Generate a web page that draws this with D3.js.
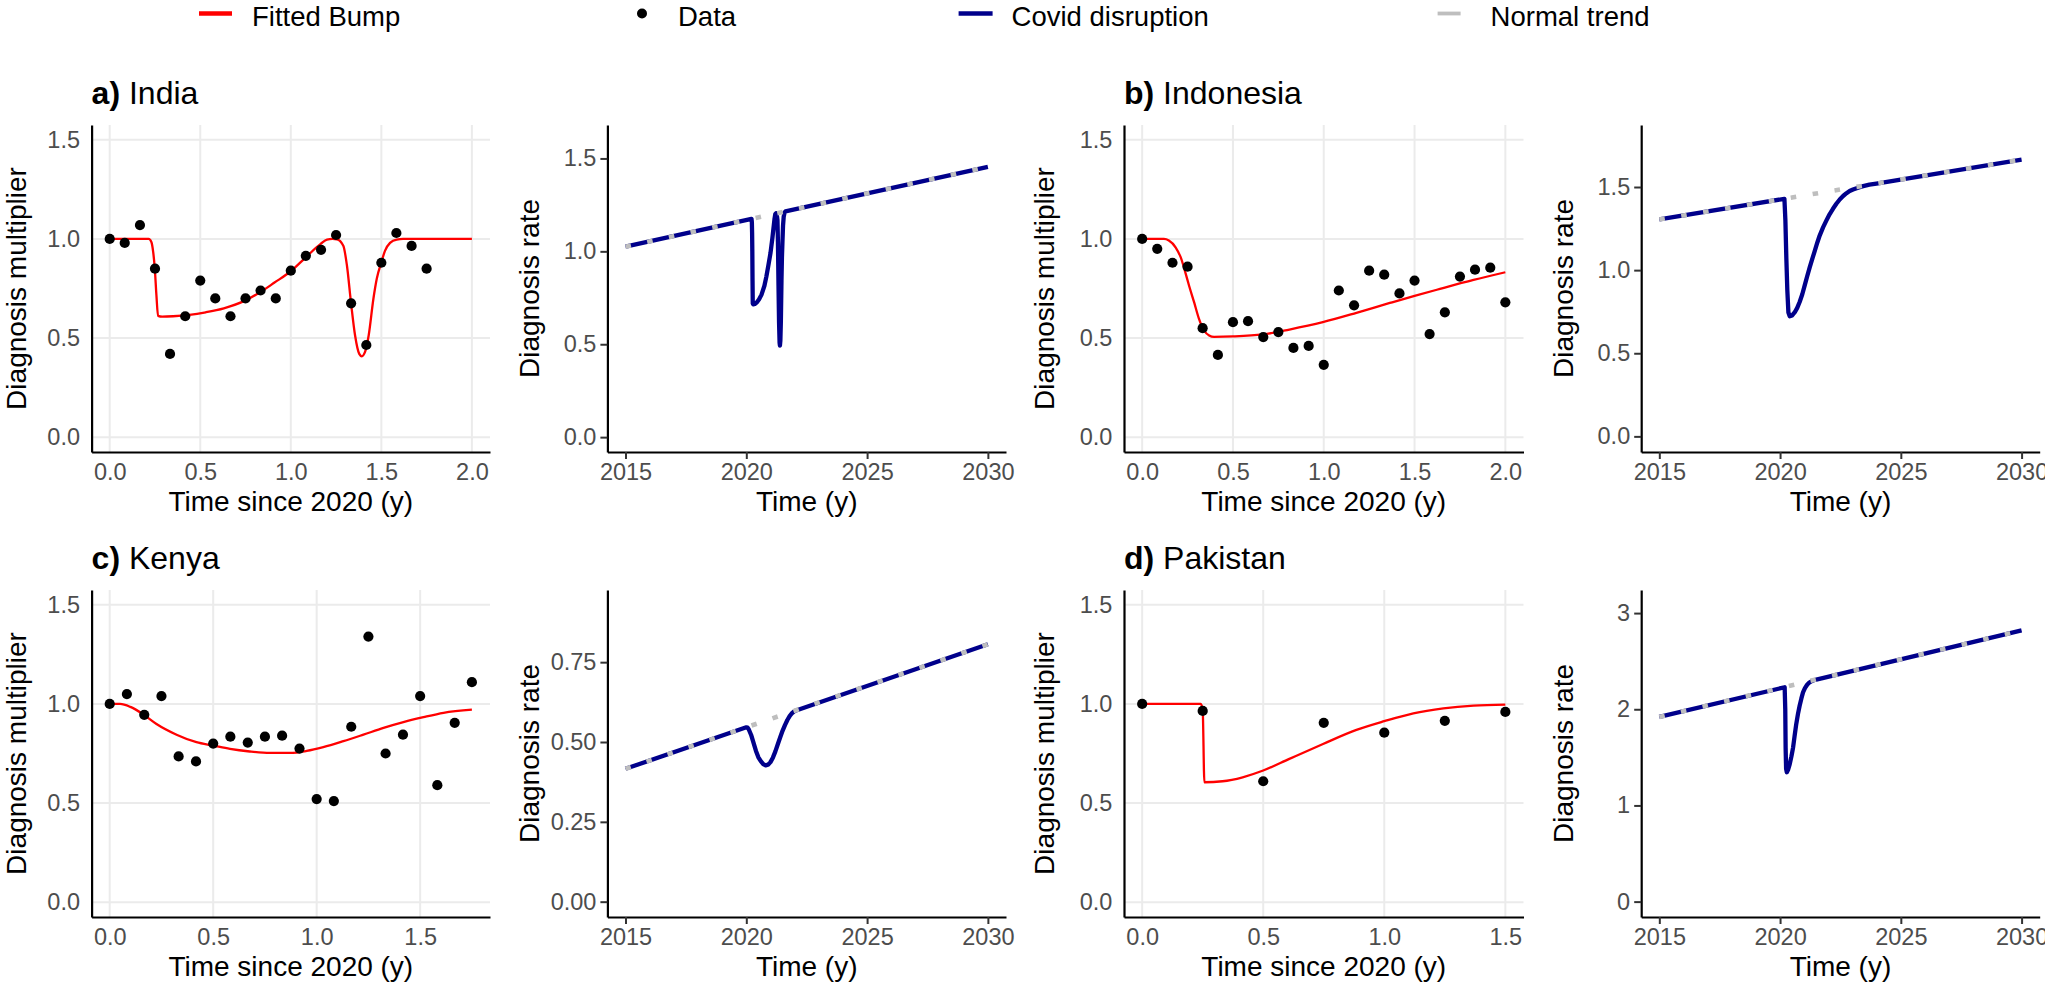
<!DOCTYPE html>
<html>
<head>
<meta charset="utf-8">
<script src="https://cdnjs.cloudflare.com/ajax/libs/d3/7.8.5/d3.min.js"></script>
<style>
  body { margin: 0; background: #fff; }
  svg text { font-family: "Liberation Sans", Arial, Helvetica, sans-serif; }
  .tick text { fill: #4d4d4d; font-size: 23.5px; }
  .tick line { stroke: #333333; stroke-width: 2; }
  .domain { stroke: #000; stroke-width: 2.2; }
</style>
</head>
<body>
<div id="chart"></div>
<script>
// ---- data ----
var countries = ["India", "Indonesia", "Kenya", "Pakistan"];
var panelLetters = ["a)", "b)", "c)", "d)"];

// observed diagnosis multiplier (time since 2020, years)
var indiaTime = [0, 0.083, 0.167, 0.25, 0.333, 0.417, 0.5, 0.583, 0.667, 0.75, 0.833, 0.917, 1, 1.083, 1.167, 1.25, 1.333, 1.417, 1.5, 1.583, 1.667, 1.75];
var indiaData = [1.00, 0.98, 1.07, 0.85, 0.42, 0.61, 0.79, 0.70, 0.61, 0.70, 0.74, 0.70, 0.84, 0.915, 0.945, 1.02, 0.675, 0.465, 0.88, 1.03, 0.965, 0.85];

var indonesiaTime = [0, 0.083, 0.167, 0.25, 0.333, 0.417, 0.5, 0.583, 0.667, 0.75, 0.833, 0.917, 1, 1.083, 1.167, 1.25, 1.333, 1.417, 1.5, 1.583, 1.667, 1.75, 1.833, 1.917, 2];
var indonesiaData = [1.00, 0.95, 0.88, 0.86, 0.55, 0.415, 0.58, 0.585, 0.505, 0.53, 0.45, 0.46, 0.365, 0.74, 0.665, 0.84, 0.82, 0.725, 0.79, 0.52, 0.63, 0.81, 0.845, 0.855, 0.68];

var kenyaTime = [0, 0.083, 0.167, 0.25, 0.333, 0.417, 0.5, 0.583, 0.667, 0.75, 0.833, 0.917, 1, 1.083, 1.167, 1.25, 1.333, 1.417, 1.5, 1.583, 1.667, 1.75];
var kenyaData = [1.00, 1.05, 0.945, 1.04, 0.735, 0.71, 0.80, 0.835, 0.805, 0.835, 0.84, 0.775, 0.52, 0.51, 0.885, 1.34, 0.75, 0.845, 1.04, 0.59, 0.905, 1.11];

var pakistanTime = [0, 0.25, 0.5, 0.75, 1, 1.25, 1.5];
var pakistanData = [1.00, 0.965, 0.61, 0.905, 0.855, 0.915, 0.96];

// fitted bump curves [time, multiplier]
var indiaBump = [[0, 1], [0.215, 1], [0.23, 0.985], [0.24, 0.935], [0.249, 0.85], [0.258, 0.715], [0.267, 0.612],
  [0.29, 0.608], [0.35, 0.61], [0.44, 0.617], [0.53, 0.63], [0.63, 0.65], [0.75, 0.69], [0.83, 0.731], [0.91, 0.78],
  [1, 0.837], [1.08, 0.905], [1.165, 0.975], [1.2, 0.997], [1.23, 1], [1.255, 0.998], [1.29, 0.966], [1.31, 0.866],
  [1.333, 0.674], [1.355, 0.513], [1.378, 0.42], [1.392, 0.408], [1.41, 0.43], [1.43, 0.513], [1.456, 0.697],
  [1.475, 0.8], [1.5, 0.882], [1.52, 0.94], [1.548, 0.98], [1.585, 0.997], [1.62, 1], [2, 1]];
var indonesiaBump = [[0, 1], [0.12, 1], [0.147, 0.992], [0.184, 0.958], [0.212, 0.908], [0.24, 0.824], [0.258, 0.765],
  [0.286, 0.681], [0.313, 0.597], [0.341, 0.538], [0.369, 0.513], [0.396, 0.506], [0.5, 0.508], [0.664, 0.518],
  [0.811, 0.543], [0.995, 0.58], [1.18, 0.627], [1.364, 0.677], [1.5, 0.713], [1.64, 0.748], [1.825, 0.793], [2, 0.832]];
var kenyaBump = [[0, 1], [0.05, 1], [0.1, 0.985], [0.165, 0.945], [0.226, 0.899], [0.323, 0.845], [0.419, 0.807],
  [0.5, 0.79], [0.581, 0.773], [0.677, 0.76], [0.774, 0.753], [0.871, 0.753], [0.952, 0.763], [1.032, 0.782],
  [1.129, 0.812], [1.226, 0.845], [1.323, 0.879], [1.419, 0.908], [1.516, 0.933], [1.613, 0.955], [1.75, 0.971]];
var pakistanBump = [[0, 1], [0.242, 1], [0.25, 0.97], [0.257, 0.605], [0.332, 0.61], [0.415, 0.63], [0.5, 0.664],
  [0.608, 0.723], [0.747, 0.798], [0.885, 0.869], [1, 0.913], [1.12, 0.953], [1.244, 0.978], [1.369, 0.992], [1.5, 0.997]];

// normal trend [year, rate]
var indiaTrend = [[2015, 1.025], [2030, 1.455]];
var indonesiaTrend = [[2015, 1.305], [2030, 1.665]];
var kenyaTrend = [[2015, 0.416], [2030, 0.806]];
var pakistanTrend = [[2015, 1.92], [2030, 2.82]];

// covid disruption [year, rate]
var indiaCovid = [[2015, 1.025], [2020.215, 1.175], [2020.23, 1.157], [2020.24, 1.1], [2020.249, 1.0], [2020.258, 0.84],
  [2020.267, 0.72], [2020.29, 0.715], [2020.35, 0.717], [2020.44, 0.726], [2020.53, 0.742], [2020.63, 0.767],
  [2020.75, 0.815], [2020.83, 0.864], [2020.91, 0.922], [2021, 0.99], [2021.08, 1.072], [2021.165, 1.172],
  [2021.2, 1.2], [2021.23, 1.205], [2021.255, 1.205], [2021.29, 1.167], [2021.31, 1.047], [2021.333, 0.815],
  [2021.355, 0.62], [2021.378, 0.508], [2021.392, 0.493], [2021.41, 0.52], [2021.43, 0.62], [2021.456, 0.843],
  [2021.475, 0.967], [2021.5, 1.066], [2021.52, 1.137], [2021.548, 1.186], [2021.585, 1.21], [2021.62, 1.215], [2030, 1.455]];
var indonesiaCovid = [[2015, 1.305], [2020.18, 1.429], [2020.22, 1.3], [2020.26, 1.07], [2020.3, 0.88], [2020.345, 0.745],
  [2020.4, 0.723], [2020.5, 0.728], [2020.61, 0.747], [2020.71, 0.773], [2020.81, 0.808], [2020.92, 0.855],
  [2021.02, 0.908], [2021.12, 0.962], [2021.23, 1.018], [2021.34, 1.07], [2021.44, 1.118], [2021.54, 1.165],
  [2021.64, 1.208], [2021.78, 1.257], [2021.92, 1.299], [2022.05, 1.336], [2022.19, 1.369], [2022.33, 1.399],
  [2022.47, 1.425], [2022.61, 1.446], [2022.75, 1.463], [2022.88, 1.476], [2023.02, 1.485], [2023.23, 1.496],
  [2023.44, 1.505], [2023.7, 1.514], [2023.99, 1.521], [2030, 1.665]];
var kenyaCovid = [[2015, 0.416], [2020, 0.546], [2020.05, 0.545], [2020.1, 0.54], [2020.2, 0.522], [2020.3, 0.497], [2020.4, 0.472],
  [2020.5, 0.452], [2020.6, 0.44], [2020.7, 0.431], [2020.8, 0.427], [2020.9, 0.429], [2021, 0.437], [2021.1, 0.451],
  [2021.2, 0.47], [2021.3, 0.492], [2021.4, 0.514], [2021.5, 0.535], [2021.6, 0.553], [2021.7, 0.569], [2021.8, 0.582],
  [2021.9, 0.591], [2022, 0.597], [2030, 0.806]];
var pakistanCovid = [[2015, 1.92], [2020.19, 2.229], [2020.215, 2.0], [2020.23, 1.6], [2020.25, 1.38], [2020.28, 1.345],
  [2020.33, 1.37], [2020.4, 1.43], [2020.47, 1.51], [2020.54, 1.604], [2020.6, 1.72], [2020.67, 1.846], [2020.74, 1.95],
  [2020.81, 2.037], [2020.88, 2.11], [2020.95, 2.175], [2021.03, 2.22], [2021.12, 2.255], [2021.2, 2.275],
  [2021.3, 2.292], [2021.4, 2.302], [2021.5, 2.309], [2030, 2.82]];

// axis domains and ticks
var leftXDomains = [[-0.1, 2.1], [-0.1, 2.1], [-0.0875, 1.8375], [-0.075, 1.575]];
var leftYDomain = [-0.075, 1.575];
var leftXTicks = [[0, 0.5, 1, 1.5, 2], [0, 0.5, 1, 1.5, 2], [0, 0.5, 1, 1.5], [0, 0.5, 1, 1.5]];
var leftYTicks = [0, 0.5, 1, 1.5];
var rightXDomain = [2014.25, 2030.75];
var rightXTicks = [2015, 2020, 2025, 2030];
var rightYDomains = [[-0.08, 1.68], [-0.094, 1.873], [-0.048, 0.976], [-0.16, 3.24]];
var rightYTicks = [[0, 0.5, 1, 1.5], [0, 0.5, 1, 1.5], [0, 0.25, 0.5, 0.75], [0, 1, 2, 3]];
var rightYFormats = [".1f", ".1f", ".2f", "d"];

var legendLabels = ["Fitted Bump", "Data", "Covid disruption", "Normal trend"];

var observed = [
  d3.zip(indiaTime, indiaData),
  d3.zip(indonesiaTime, indonesiaData),
  d3.zip(kenyaTime, kenyaData),
  d3.zip(pakistanTime, pakistanData)
];
var bumps = [indiaBump, indonesiaBump, kenyaBump, pakistanBump];
var trends = [indiaTrend, indonesiaTrend, kenyaTrend, pakistanTrend];
var covids = [indiaCovid, indonesiaCovid, kenyaCovid, pakistanCovid];

// ---- layout ----
var svgWidth = 2045;
var svgHeight = 984;

var rowTop = [125, 590];
var rowBottom = [452, 917];
var leftCols = [[91.6, 490], [1124, 1523.5]];
var rightCols = [[607.4, 1006], [1641.2, 2039.7]];

var svg = d3.select("#chart")
  .append("svg")
  .attr("width", svgWidth)
  .attr("height", svgHeight);

var red = "#FF0000", navy = "#00008B", grey = "#BEBEBE";
var trendDash = "5.55,16.65";

// ---- legend ----
var legendKeyX = [199, 625, 958.6, 1437.6];
var legendY = 13.5;
var legend = svg.append("g");
legendLabels.forEach(function(label, i) {
  var kx = legendKeyX[i];
  if (i === 0) {
    legend.append("line").attr("x1", kx).attr("x2", kx + 33).attr("y1", legendY).attr("y2", legendY)
      .attr("stroke", red).attr("stroke-width", 4.5);
  } else if (i === 1) {
    legend.append("circle").attr("cx", kx + 17).attr("cy", legendY).attr("r", 5).attr("fill", "#000");
  } else if (i === 2) {
    legend.append("line").attr("x1", kx).attr("x2", kx + 34).attr("y1", legendY).attr("y2", legendY)
      .attr("stroke", navy).attr("stroke-width", 4.3);
  } else {
    legend.append("line").attr("x1", kx).attr("x2", kx + 23).attr("y1", legendY).attr("y2", legendY)
      .attr("stroke", grey).attr("stroke-width", 3.8);
  }
  legend.append("text")
    .attr("x", kx + 53)
    .attr("y", 25.5)
    .attr("font-size", "27.5px")
    .attr("fill", "#000")
    .text(label);
});

// ---- panels ----
countries.forEach(function(country, i) {
  var row = Math.floor(i / 2), col = i % 2;
  var top = rowTop[row], bottom = rowBottom[row];
  var lc = leftCols[col], rc = rightCols[col];

  // title
  var title = svg.append("text")
    .attr("x", lc[0])
    .attr("y", top - 21)
    .attr("font-size", "32px")
    .attr("fill", "#000");
  title.append("tspan").attr("font-weight", "bold").text(panelLetters[i]);
  title.append("tspan").text(" " + country);

  // ---------- left: fitted bump ----------
  var x = d3.scaleLinear().domain(leftXDomains[i]).range(lc);
  var y = d3.scaleLinear().domain(leftYDomain).range([bottom, top]);

  var gl = svg.append("g");

  // gridlines
  gl.selectAll(".vgrid").data(leftXTicks[i]).enter().append("line")
    .attr("x1", d => x(d)).attr("x2", d => x(d))
    .attr("y1", top).attr("y2", bottom)
    .attr("stroke", "#EBEBEB").attr("stroke-width", 2);
  gl.selectAll(".hgrid").data(leftYTicks).enter().append("line")
    .attr("x1", lc[0]).attr("x2", lc[1])
    .attr("y1", d => y(d)).attr("y2", d => y(d))
    .attr("stroke", "#EBEBEB").attr("stroke-width", 2);

  var bumpLine = d3.line()
    .x(d => x(d[0]))
    .y(d => y(d[1]))
    .curve(d3.curveMonotoneX);

  gl.append("path")
    .datum(bumps[i])
    .attr("d", bumpLine)
    .attr("fill", "none")
    .attr("stroke", red)
    .attr("stroke-width", 2.3)
    .attr("stroke-linejoin", "round");

  gl.selectAll(".pt").data(observed[i]).enter().append("circle")
    .attr("cx", d => x(d[0]))
    .attr("cy", d => y(d[1]))
    .attr("r", 5.1)
    .attr("fill", "#000");

  gl.append("g")
    .attr("transform", `translate(0, ${bottom})`)
    .call(d3.axisBottom(x).tickValues(leftXTicks[i]).tickFormat(d3.format(".1f"))
      .tickSize(0).tickPadding(11.3));
  gl.append("g")
    .attr("transform", `translate(${lc[0]}, 0)`)
    .call(d3.axisLeft(y).tickValues(leftYTicks).tickFormat(d3.format(".1f"))
      .tickSize(0).tickPadding(11.6));

  gl.append("text")
    .attr("x", (lc[0] + lc[1]) / 2)
    .attr("y", bottom + 59)
    .attr("text-anchor", "middle")
    .attr("font-size", "28px")
    .text("Time since 2020 (y)");
  // keep the leftmost title inside the page edge
  gl.append("text")
    .attr("transform", `translate(${Math.max(lc[0] - 70, 26)}, ${(top + bottom) / 2}) rotate(-90)`)
    .attr("text-anchor", "middle")
    .attr("font-size", "28px")
    .text("Diagnosis multiplier");

  // ---------- right: diagnosis rate ----------
  var xr = d3.scaleLinear().domain(rightXDomain).range(rc);
  var yr = d3.scaleLinear().domain(rightYDomains[i]).range([bottom, top]);

  var gr = svg.append("g");

  var rateLine = d3.line()
    .x(d => xr(d[0]))
    .y(d => yr(d[1]));

  gr.append("path")
    .datum(covids[i])
    .attr("d", rateLine)
    .attr("fill", "none")
    .attr("stroke", navy)
    .attr("stroke-width", 4.3)
    .attr("stroke-linejoin", "round");

  gr.append("path")
    .datum(trends[i])
    .attr("d", rateLine)
    .attr("fill", "none")
    .attr("stroke", grey)
    .attr("stroke-width", 4.6)
    .attr("stroke-dasharray", trendDash);

  gr.append("g")
    .attr("transform", `translate(0, ${bottom})`)
    .call(d3.axisBottom(xr).tickValues(rightXTicks).tickFormat(d3.format("d"))
      .tickSizeInner(7).tickSizeOuter(0).tickPadding(4.3));
  gr.append("g")
    .attr("transform", `translate(${rc[0]}, 0)`)
    .call(d3.axisLeft(yr).tickValues(rightYTicks[i]).tickFormat(d3.format(rightYFormats[i]))
      .tickSizeInner(7).tickSizeOuter(0).tickPadding(4));

  gr.append("text")
    .attr("x", (rc[0] + rc[1]) / 2)
    .attr("y", bottom + 59)
    .attr("text-anchor", "middle")
    .attr("font-size", "28px")
    .text("Time (y)");
  gr.append("text")
    .attr("transform", `translate(${rc[0] - 68.5}, ${(top + bottom) / 2}) rotate(-90)`)
    .attr("text-anchor", "middle")
    .attr("font-size", "28px")
    .text("Diagnosis rate");
});
</script>
</body>
</html>
